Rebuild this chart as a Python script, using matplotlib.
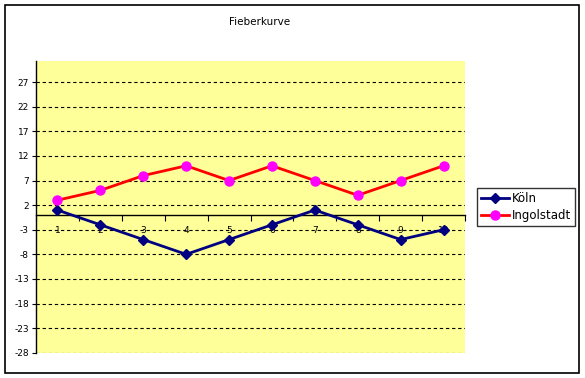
import matplotlib
matplotlib.use("Agg")
import matplotlib.pyplot as plt
from matplotlib.patches import Rectangle
import numpy as np

categories = ["1", "2", "3", "4", "5", "6", "7", "8", "9", "10"]
koeln = [1, -2, -5, -8, -5, -2, 1, -2, -5, -3]
ingolstadt = [3, 5, 8, 10, 7, 10, 7, 4, 7, 10]
yticks = [-28, -23, -18, -13, -8, -3, 2, 7, 12, 17, 22, 27]
title = "Fieberkurve"

W, H = 585, 378
fig = plt.figure(figsize=(W / 100, H / 100), dpi=100)
fig.patch.set_facecolor("white")

# outer chart frame
fig.patches.append(Rectangle((5 / W, 1 - 372.5 / H), 574 / W, 367.5 / H,
                             transform=fig.transFigure, fill=False,
                             edgecolor="black", linewidth=1.2))

ax = fig.add_axes([36 / W, 1 - 352.7 / H, 429 / W, 291.7 / H])
ax.set_facecolor("#FFFF99")

x = np.arange(1, len(categories) + 1)
ax.plot(x, koeln, color="#000080", linewidth=2, marker="D", markersize=5.5,
        markerfacecolor="#000080", markeredgecolor="#000080", label="Köln", zorder=4)
ax.plot(x, ingolstadt, color="#FF0000", linewidth=2, marker="o", markersize=6.5,
        markerfacecolor="#FF00FF", markeredgecolor="#FF00FF", label="Ingolstadt", zorder=4)

ax.set_xlim(0.5, len(categories) + 0.5)
ax.set_ylim(-28, 31.3)

# gridlines
ax.set_yticks(yticks)
ax.set_yticklabels([str(v) for v in yticks], fontsize=6.5)
ax.yaxis.grid(True, color="black", linestyle=(0, (3, 2.5)), linewidth=0.8)
ax.set_axisbelow(True)
ax.tick_params(axis="y", length=3, width=0.8, pad=2)

# x axis crossing at zero
for s in ["top", "right"]:
    ax.spines[s].set_visible(False)
ax.spines["bottom"].set_position(("data", 0))
ax.spines["bottom"].set_linewidth(1)
ax.spines["left"].set_linewidth(1)
ax.spines["bottom"].set_zorder(3)

ax.set_xticks(np.arange(0.5, len(categories) + 1, 1.0))
ax.set_xticklabels([])
ax.tick_params(axis="x", which="major", length=4, width=0.8, direction="out")
ax.set_xticks(x, minor=True)
ax.set_xticklabels(categories, minor=True, fontsize=6.5)
ax.tick_params(axis="x", which="minor", length=0, pad=8)

fig.text(260 / W, 1 - 22 / H, title, ha="center", va="center", fontsize=7.5,
         fontweight="medium")

leg = ax.legend(loc="center left", bbox_to_anchor=(477 / W, 1 - 207 / H),
                bbox_transform=fig.transFigure, fontsize=8.5, frameon=True,
                fancybox=False, edgecolor="black", handlelength=2.4,
                handletextpad=0.2, borderpad=0.35, labelspacing=0.4,
                borderaxespad=0)
leg.get_frame().set_linewidth(1)

fig.savefig("out.png", dpi=100)
